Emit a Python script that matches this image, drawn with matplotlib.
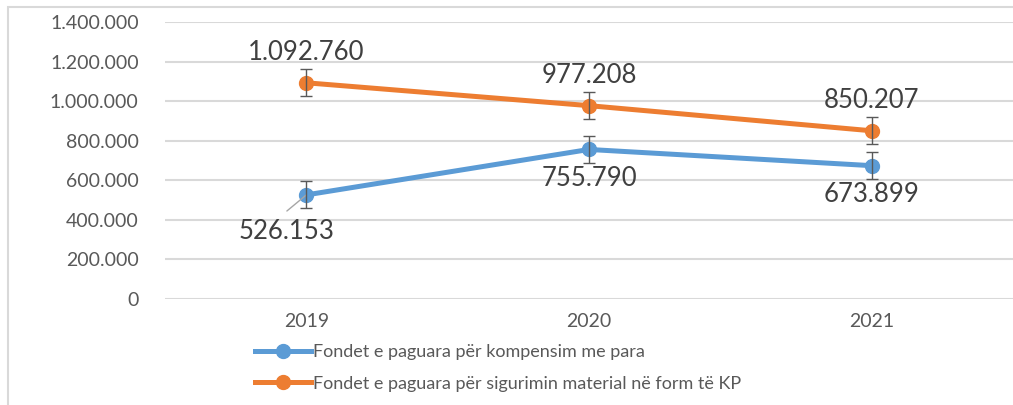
import matplotlib.pyplot as plt
from matplotlib.patches import Rectangle
from matplotlib.ticker import FuncFormatter

years = ['2019', '2020', '2021']
kompensim = [526153, 755790, 673899]
sigurim = [1092760, 977208, 850207]
err_kompensim = [68000, 68000, 68000]
err_sigurim = [68000, 68000, 68000]
labels = ['Fondet e paguara për kompensim me para',
          'Fondet e paguara për sigurimin material në form të KP']

plt.rcParams['font.family'] = ['Lato', 'DejaVu Sans']

blue = '#5b9bd5'
orange = '#ed7d31'
txt = '#595959'
lbl = '#404040'


def dots(v):
    return f'{int(v):,}'.replace(',', '.')


fig = plt.figure(figsize=(10.13, 4.05), dpi=100)
ax = fig.add_axes([165 / 1013, 1 - 299 / 405, 848 / 1013, 277 / 405])

# frame around the whole chart
fig.patches.append(Rectangle((8 / 1013, -0.1), 1.2, 1 - 7 / 405 + 0.1,
                             transform=fig.transFigure, fill=False,
                             edgecolor='#d9d9d9', linewidth=1.5))

x = list(range(len(years)))
ax.plot(x, kompensim, color=blue, lw=3.6, marker='o', ms=10, label=labels[0], zorder=3)
ax.plot(x, sigurim, color=orange, lw=3.6, marker='o', ms=10, label=labels[1], zorder=3)
ax.errorbar(x, kompensim, yerr=err_kompensim, fmt='none', ecolor=txt,
            elinewidth=1, capsize=4, capthick=1, zorder=4)
ax.errorbar(x, sigurim, yerr=err_sigurim, fmt='none', ecolor=txt,
            elinewidth=1, capsize=4, capthick=1, zorder=4)

# data labels
for i, v in enumerate(sigurim):
    ax.annotate(dots(v), (i, v), xytext=(0, 13), textcoords='offset points',
                ha='center', va='bottom', fontsize=18.5, color=lbl)
ax.annotate(dots(kompensim[0]), (0, kompensim[0]), xytext=(-14, -17),
            textcoords='offset points', ha='center', va='top', fontsize=18.5,
            color=lbl, arrowprops=dict(arrowstyle='-', color='#a6a6a6', lw=1,
                                       shrinkA=0, shrinkB=0,
                                       relpos=(0.5, 1.3)))
for i in (1, 2):
    ax.annotate(dots(kompensim[i]), (i, kompensim[i]), xytext=(0, -12),
                textcoords='offset points', ha='center', va='top',
                fontsize=18.5, color=lbl)

ax.set_xlim(-0.5, 2.5)
ax.set_ylim(0, 1400000)
ax.set_yticks(range(0, 1400001, 200000))
ax.yaxis.set_major_formatter(FuncFormatter(lambda v, p: dots(v)))
ax.set_xticks(x)
ax.set_xticklabels(years)
ax.tick_params(axis='both', length=0, labelsize=14, labelcolor=txt)
ax.tick_params(axis='y', pad=19)
ax.tick_params(axis='x', pad=10)
ax.grid(axis='y', color='#d9d9d9', lw=1.5)
ax.set_axisbelow(True)
for s in ax.spines.values():
    s.set_visible(False)

leg = fig.legend(loc='upper left', bbox_to_anchor=(248 / 1013, 1 - 337 / 405),
                 frameon=False, fontsize=13, handlelength=3.1,
                 handletextpad=0.1, labelspacing=0.85, borderaxespad=0)
for t in leg.get_texts():
    t.set_color(txt)

fig.savefig('out.png', dpi=100)
